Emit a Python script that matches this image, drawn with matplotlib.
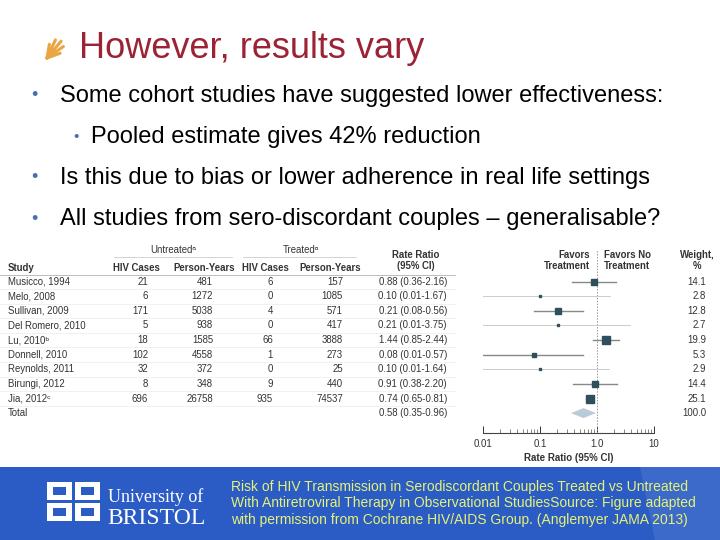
import matplotlib
matplotlib.use("Agg")
import matplotlib.pyplot as plt
from matplotlib import font_manager
from matplotlib.patches import Rectangle, Polygon
import numpy as np

# ---------------- data ----------------
studies = ["Musicco, 1994", "Melo, 2008", "Sullivan, 2009", "Del Romero, 2010", "Lu, 2010ᵇ",
           "Donnell, 2010", "Reynolds, 2011", "Birungi, 2012", "Jia, 2012ᶜ"]
unt_cases = [21, 6, 171, 5, 18, 102, 32, 8, 696]
unt_py = [481, 1272, 5038, 938, 1585, 4558, 372, 348, 26758]
trt_cases = [6, 0, 4, 0, 66, 1, 0, 9, 935]
trt_py = [157, 1085, 571, 417, 3888, 273, 25, 440, 74537]
rr = [0.88, 0.10, 0.21, 0.21, 1.44, 0.08, 0.10, 0.91, 0.74]
rr_lo = [0.36, 0.01, 0.08, 0.01, 0.85, 0.01, 0.01, 0.38, 0.65]
rr_hi = [2.16, 1.67, 0.56, 3.75, 2.44, 0.57, 1.64, 2.20, 0.81]
weights = [14.1, 2.8, 12.8, 2.7, 19.9, 5.3, 2.9, 14.4, 25.1]
total_rr, total_lo, total_hi, total_w = 0.58, 0.35, 0.96, 100.0
xticks = [0.01, 0.1, 1.0, 10]
xtick_labels = ["0.01", "0.1", "1.0", "10"]

title = "However, results vary"
bullets = [("Some cohort studies have suggested lower effectiveness:", 0),
           ("Pooled estimate gives 42% reduction", 1),
           ("Is this due to bias or lower adherence in real life settings", 0),
           ("All studies from sero-discordant couples – generalisable?", 0)]
footer = ["Risk of HIV Transmission in Serodiscordant Couples Treated vs Untreated",
          "With Antiretroviral Therapy in Observational StudiesSource: Figure adapted",
          "with permission from Cochrane HIV/AIDS Group. (Anglemyer JAMA 2013)"]

# ---------------- fonts ----------------
names = {f.name for f in font_manager.fontManager.ttflist}
SANS = ["Liberation Sans", "DejaVu Sans"]
if "Liberation Sans Narrow" in names:
    NARROW = ["Liberation Sans Narrow", "DejaVu Sans"]
    fsize = 12.0
else:
    NARROW = SANS
    fsize = 10.0
SERIF = ["Liberation Serif", "DejaVu Serif"]

W, H = 720, 540
fig = plt.figure(figsize=(7.2, 5.4), dpi=100)
bg = fig.add_axes([0, 0, 1, 1])
bg.set_xlim(0, W)
bg.set_ylim(H, 0)
bg.axis("off")

# ---------------- title ----------------
for ang, ln in zip([20, 35, 50, 65, 80], [14, 20, 22, 20, 14]):
    a = np.deg2rad(ang)
    bg.plot([47, 47 + ln * np.cos(a)], [58, 58 - ln * np.sin(a)], color="#eaa640", lw=2.2,
            solid_capstyle="round")
bg.text(79, 58, title, fontsize=26, color="#9b2335", family=SANS, va="baseline", ha="left")

# ---------------- bullets ----------------
ys = [96, 137, 178, 219]
for (txt, lvl), y in zip(bullets, ys):
    bx = 34 if lvl == 0 else 76
    tx = 60 if lvl == 0 else 91
    bg.text(bx, y, "•", fontsize=13 if lvl == 0 else 11, color="#4b6db3", family=SANS,
            va="center", ha="center")
    bg.text(tx, y, txt, fontsize=17, color="#000000", family=SANS, va="center", ha="left")

# ---------------- table ----------------
tc = "#333333"
tfs = 6.9
y0, dy = 281.7, 14.6
bg.text(173, 250, "Untreatedᵃ", fontsize=tfs, color=tc, family=SANS, ha="center", va="center")
bg.text(301, 250, "Treatedᵃ", fontsize=tfs, color=tc, family=SANS, ha="center", va="center")
bg.plot([114, 232], [257, 257], color="#cccccc", lw=0.6)
bg.plot([243, 356], [257, 257], color="#cccccc", lw=0.6)
hdr_y = 268
bg.text(8, hdr_y, "Study", fontsize=tfs, color=tc, family=SANS, ha="left", va="center", weight="bold")
for cx, lab in [(136, "HIV Cases"), (204, "Person-Years"), (265, "HIV Cases"), (330, "Person-Years")]:
    bg.text(cx, hdr_y, lab, fontsize=tfs, color=tc, family=SANS, ha="center", va="center", weight="bold")
bg.text(416, 255, "Rate Ratio", fontsize=tfs, color=tc, family=SANS, ha="center", va="center", weight="bold")
bg.text(416, 266, "(95% CI)", fontsize=tfs, color=tc, family=SANS, ha="center", va="center", weight="bold")
bg.plot([0, 455], [275, 275], color="#bbbbbb", lw=0.7)

for i in range(len(studies)):
    y = y0 + i * dy
    bg.text(8, y, studies[i], fontsize=tfs, color=tc, family=SANS, ha="left", va="center")
    bg.text(148, y, str(unt_cases[i]), fontsize=tfs, color=tc, family=SANS, ha="right", va="center")
    bg.text(213, y, str(unt_py[i]), fontsize=tfs, color=tc, family=SANS, ha="right", va="center")
    bg.text(273, y, str(trt_cases[i]), fontsize=tfs, color=tc, family=SANS, ha="right", va="center")
    bg.text(343, y, str(trt_py[i]), fontsize=tfs, color=tc, family=SANS, ha="right", va="center")
    bg.text(447, y, f"{rr[i]:.2f} ({rr_lo[i]:.2f}-{rr_hi[i]:.2f})", fontsize=tfs, color=tc,
            family=SANS, ha="right", va="center")
    bg.text(706, y, f"{weights[i]:.1f}", fontsize=tfs, color=tc, family=SANS, ha="right", va="center")
    bg.plot([0, 455], [y + dy / 2, y + dy / 2], color="#ececec", lw=0.5)
yt = y0 + len(studies) * dy
bg.text(8, yt, "Total", fontsize=tfs, color=tc, family=SANS, ha="left", va="center")
bg.text(447, yt, f"{total_rr:.2f} ({total_lo:.2f}-{total_hi:.2f})", fontsize=tfs, color=tc,
        family=SANS, ha="right", va="center")
bg.text(706, yt, f"{total_w:.1f}", fontsize=tfs, color=tc, family=SANS, ha="right", va="center")

# headers of forest part
bg.text(590, 255, "Favors", fontsize=tfs, color=tc, family=SANS, ha="right", va="center", weight="bold")
bg.text(590, 266, "Treatment", fontsize=tfs, color=tc, family=SANS, ha="right", va="center", weight="bold")
bg.text(604, 255, "Favors No", fontsize=tfs, color=tc, family=SANS, ha="left", va="center", weight="bold")
bg.text(604, 266, "Treatment", fontsize=tfs, color=tc, family=SANS, ha="left", va="center", weight="bold")
bg.text(697, 255, "Weight,", fontsize=tfs, color=tc, family=SANS, ha="center", va="center", weight="bold")
bg.text(697, 266, "%", fontsize=tfs, color=tc, family=SANS, ha="center", va="center", weight="bold")

# ---------------- forest plot ----------------
ax_top, ax_bot, ax_l, ax_r = 250, 433, 483, 654
ax = fig.add_axes([ax_l / W, (H - ax_bot) / H, (ax_r - ax_l) / W, (ax_bot - ax_top) / H])
ax.set_xscale("log")
ax.set_xlim(0.01, 10)
ax.set_ylim((ax_bot - y0) / dy, (ax_top - y0) / dy)
ax.patch.set_alpha(0)
for s in ["top", "right", "left"]:
    ax.spines[s].set_visible(False)
ax.spines["bottom"].set_color("#444444")
ax.spines["bottom"].set_linewidth(0.8)
ax.set_yticks([])
ax.axvline(1.0, color="#999999", lw=0.7, ls=(0, (1.5, 1.5)), ymax=1.0)

for i in range(len(studies)):
    heavy = weights[i] > 5
    ax.plot([rr_lo[i], rr_hi[i]], [i, i], color="#888888" if heavy else "#cccccc",
            lw=1.0 if heavy else 0.7, zorder=2)
    ax.plot(rr[i], i, marker="s", ms=1.15 * np.sqrt(weights[i]), color="#2f4f5c",
            mec="#2f4f5c", zorder=3)
ti = len(studies)
ax.add_patch(Polygon([[total_lo, ti], [total_rr, ti - 0.34], [total_hi, ti], [total_rr, ti + 0.34]],
                     closed=True, fc="#b9cad8", ec="none", zorder=3))

ax.set_xticks(xticks)
ax.set_xticklabels(xtick_labels)
ax.tick_params(axis="x", which="major", direction="in", length=5, width=0.7, labelsize=7,
               colors="#333333", pad=4)
ax.tick_params(axis="x", which="minor", direction="in", length=3, width=0.5, colors="#555555")
for lab in ax.get_xticklabels():
    lab.set_family(SANS)
ax.set_xlabel("Rate Ratio (95% CI)", fontsize=7, color="#333333", family=SANS, labelpad=3,
              weight="bold")

# ---------------- footer ----------------
bg.add_patch(Rectangle((0, 467), W, 73, fc="#2b5cc6", ec="none", zorder=0))
bg.add_patch(Polygon([[640, 467], [720, 467], [720, 540], [655, 540]], closed=True,
                     fc="#5d86d6", ec="none", alpha=0.35, zorder=0.5))
# logo
for (lx, ly) in [(47, 482), (75, 482), (47, 503), (75, 503)]:
    bg.add_patch(Rectangle((lx, ly), 25, 18, fc="white", ec="none", zorder=1))
    bg.add_patch(Rectangle((lx + 6, ly + 5), 13, 8, fc="#2b5cc6", ec="none", zorder=1.1))
bg.text(108, 497, "University of", fontsize=13, color="white", family=SERIF, ha="left", va="center")
bg.text(107, 519, "BRISTOL", fontsize=17, color="white", family=SERIF, ha="left", va="center")
for j, line in enumerate(footer):
    bg.text(231, 487 + j * 16.5, line, fontsize=fsize, color="#e6f274", family=NARROW,
            ha="left", va="center")

fig.savefig("out.png", dpi=100)
